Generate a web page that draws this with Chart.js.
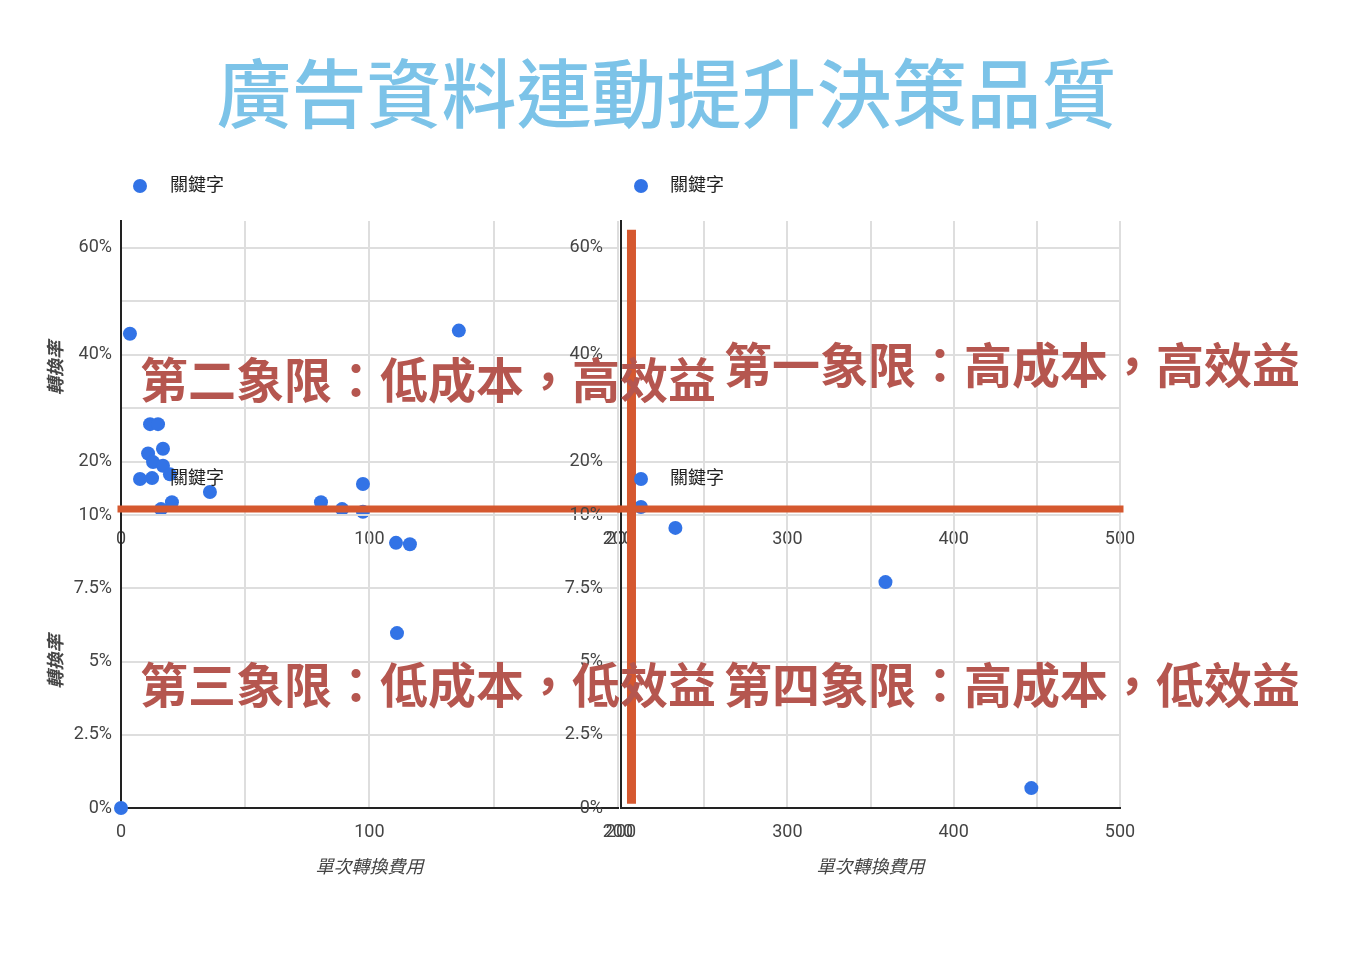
<!DOCTYPE html>
<html lang="zh-Hant">
<head>
<meta charset="utf-8">
<title>廣告資料連動提升決策品質</title>
<script src="https://cdn.jsdelivr.net/npm/chart.js@4/dist/chart.umd.min.js"></script>
<style>
  body { margin: 0; background: #fff; }
  #page { position: relative; width: 1352px; height: 960px; overflow: hidden; font-family: 'Noto Sans CJK TC', sans-serif; }
  canvas { position: absolute; }
  h1 { position: absolute; left: 0; width: 1333px; top: 52px; margin: 0; text-align: center;
       font-size: 75px; line-height: 75px; font-weight: 500; color: #7cc3e8; }
  .quad { position: absolute; font-size: 48px; line-height: 48px; font-weight: 700; color: #b5564f; white-space: nowrap; }
</style>
</head>
<body>
<div id="page">
  <h1>廣告資料連動提升決策品質</h1>
  <canvas id="topLeft"></canvas>
  <canvas id="topRight"></canvas>
  <canvas id="bottomLeft"></canvas>
  <canvas id="bottomRight"></canvas>
  <div class="quad" style="left:140px; top:353px;">第二象限：低成本，高效益</div>
  <div class="quad" style="left:724px; top:338px;">第一象限：高成本，高效益</div>
  <div class="quad" style="left:140px; top:658px;">第三象限：低成本，低效益</div>
  <div class="quad" style="left:724px; top:658px;">第四象限：高成本，低效益</div>
</div>
<script>
// keyword data: cost per conversion / conversion rate (%)
const keywordCost = [3.6, 136, 11.7, 14.9, 10.9, 16.9, 12.9, 16.9, 12.5, 19.7, 35.8, 20.5, 16.1, 80.5, 89, 97.4, 97.4,
  212, 110.7, 116.3, 111.1, 0, 232.7, 359, 446.7];
const keywordRate = [43.9, 44.5, 27.0, 27.0, 21.5, 22.4, 19.9, 19.2, 16.9, 17.6, 14.3, 12.4, 11.1, 12.4, 11.1, 15.8, 10.6,
  11.5, 9.05, 9.0, 5.97, 0, 9.56, 7.71, 0.68];

const costLabelsLeft = [0, 100, 200];
const costLabelsRight = [200, 300, 400, 500];
const rateLabelsTop = [10, 20, 40, 60];
const rateLabelsBottom = [0, 2.5, 5, 7.5];

// quadrant dividers
const splitCost = 206.3;
const splitRate = 11.1;
const splitRateTop = 62.5;
const splitRateBottom = 0.3;

const fontFamily = "Roboto, 'Noto Sans CJK TC', sans-serif";
const blue = '#3273e6';
const orange = '#d5582f';
const gridColor = '#dedede';
const tickColor = '#444';

function legendMarker(dotX, width) {
  const c = document.createElement('canvas');
  c.width = width;
  c.height = 14;
  const ctx = c.getContext('2d');
  ctx.fillStyle = blue;
  ctx.beginPath();
  ctx.arc(dotX, 7, 7, 0, Math.PI * 2);
  ctx.fill();
  return c;
}

// extra space under the legend
const legendGap = {
  id: 'legendGap',
  beforeInit(chart, args, opts) {
    const fit = chart.legend.fit;
    chart.legend.fit = function() {
      fit.call(this);
      this.height += opts.gap || 0;
    };
  }
};

function buildChart(id, box, o) {
  const canvas = document.getElementById(id);
  canvas.width = box.w;
  canvas.height = box.h;
  canvas.style.left = box.x + 'px';
  canvas.style.top = box.y + 'px';

  const points = keywordCost
    .map((x, i) => ({ x: x, y: keywordRate[i] }))
    .filter(p => p.x >= o.xMin && p.x <= o.xMax && p.y >= o.yMin && p.y <= o.yMax);

  const lines = o.lines.map(pts => ({
    type: 'line',
    label: '',
    data: pts,
    borderColor: orange,
    borderWidth: pts[0].x === pts[1].x ? 9 : 7,
    borderCapStyle: 'square',
    pointRadius: 0,
    clip: false,
    order: -1 - (pts[0].x === pts[1].x ? 1 : 0)
  }));

  return new Chart(canvas, {
    type: 'scatter',
    data: {
      datasets: [{
        label: '關鍵字',
        data: points,
        backgroundColor: blue,
        borderWidth: 0,
        pointRadius: 7,
        pointHoverRadius: 7,
        clip: false
      }, ...lines]
    },
    plugins: [legendGap],
    options: {
      responsive: false,
      animation: false,
      events: [],
      layout: { padding: { left: 0, top: 0, bottom: 0, right: box.padRight } },
      plugins: {
        legendGap: { gap: box.gap },
        tooltip: { enabled: false },
        title: { display: false },
        legend: {
          display: true,
          position: 'top',
          align: 'start',
          labels: {
            usePointStyle: true,
            pointStyle: legendMarker(o.legendDot, o.legendWidth),
            pointStyleWidth: o.legendWidth,
            padding: 18,
            color: '#222',
            font: { family: fontFamily, size: 18 },
            filter: item => item.text !== ''
          }
        }
      },
      scales: {
        x: {
          type: 'linear',
          min: o.xMin,
          max: o.xMax,
          afterFit: s => { s.height = o.xHeight; },
          grid: { color: gridColor, lineWidth: 2, drawTicks: false },
          border: { color: o.xBorder, width: 2 },
          ticks: {
            stepSize: 50,
            autoSkip: false,
            maxRotation: 0,
            padding: 14,
            color: tickColor,
            font: { family: fontFamily, size: 18 },
            callback: v => o.xLabels.includes(v) ? String(v) : ''
          },
          title: {
            display: o.xTitle,
            text: '單次轉換費用',
            color: tickColor,
            font: { family: fontFamily, size: 18, style: 'italic' },
            padding: { top: 0, bottom: 4 }
          }
        },
        y: {
          type: 'linear',
          min: o.yMin,
          max: o.yMax,
          afterFit: s => { s.width = o.yWidth; },
          grid: { color: gridColor, lineWidth: 2, drawTicks: false },
          border: { color: '#222', width: 2 },
          ticks: {
            stepSize: o.yStep,
            includeBounds: false,
            autoSkip: false,
            padding: o.yPad,
            color: tickColor,
            font: { family: fontFamily, size: 18 },
            callback: v => o.yLabels.includes(v) ? v + '%' : ''
          },
          title: {
            display: o.yTitle,
            text: '轉換率',
            color: tickColor,
            font: { family: fontFamily, size: 18, style: 'italic', weight: 'bold' },
            padding: { top: 7, bottom: 0 }
          }
        }
      }
    }
  });
}

buildChart('topLeft', { x: 40, y: 159, w: 607, h: 396, padRight: 22, gap: 16 }, {
  xMin: 0, xMax: 200, yMin: 10, yMax: 65, yStep: 10,
  xLabels: costLabelsLeft, yLabels: rateLabelsTop,
  xTitle: false, yTitle: true, xHeight: 40, yWidth: 81, yPad: 9, xBorder: gridColor,
  legendDot: 82, legendWidth: 103,
  lines: [[{ x: 0, y: splitRate }, { x: 200, y: splitRate }]]
});

buildChart('topRight', { x: 560, y: 159, w: 590, h: 396, padRight: 30, gap: 16 }, {
  xMin: 200, xMax: 500, yMin: 10, yMax: 65, yStep: 10,
  xLabels: costLabelsRight, yLabels: rateLabelsTop,
  xTitle: false, yTitle: false, xHeight: 40, yWidth: 61, yPad: 18, xBorder: gridColor,
  legendDot: 63, legendWidth: 83,
  lines: [
    [{ x: 200, y: splitRate }, { x: 500, y: splitRate }],
    [{ x: splitCost, y: splitRateTop }, { x: splitCost, y: 10 }]
  ]
});

buildChart('bottomLeft', { x: 40, y: 452, w: 607, h: 431, padRight: 22, gap: 17 }, {
  xMin: 0, xMax: 200, yMin: 0, yMax: 10, yStep: 2.5,
  xLabels: costLabelsLeft, yLabels: rateLabelsBottom,
  xTitle: true, yTitle: true, xHeight: 75, yWidth: 81, yPad: 9, xBorder: '#222',
  legendDot: 82, legendWidth: 103,
  lines: []
});

buildChart('bottomRight', { x: 560, y: 452, w: 590, h: 431, padRight: 30, gap: 17 }, {
  xMin: 200, xMax: 500, yMin: 0, yMax: 10, yStep: 2.5,
  xLabels: costLabelsRight, yLabels: rateLabelsBottom,
  xTitle: true, yTitle: false, xHeight: 75, yWidth: 61, yPad: 18, xBorder: '#222',
  legendDot: 63, legendWidth: 83,
  lines: [[{ x: splitCost, y: 10 }, { x: splitCost, y: splitRateBottom }]]
});
</script>
</body>
</html>
